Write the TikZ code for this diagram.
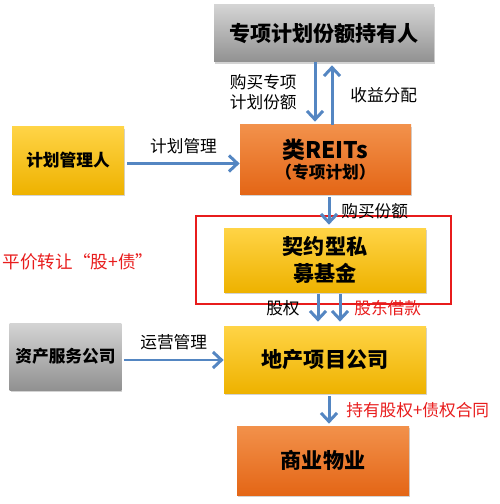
\documentclass[tikz,border=0pt]{standalone}
\usepackage{fontspec}
\setmainfont{Noto Sans CJK SC}
\usetikzlibrary{arrows.meta, positioning, shadows}

\begin{document}
\begin{tikzpicture}[
    box/.style={rectangle, align=center, font=\bfseries,
      drop shadow={shadow xshift=0.6pt, shadow yshift=-1.2pt, opacity=0.35}},
    graybox/.style={box, top color=boxgrayA, bottom color=boxgrayB},
    yellowbox/.style={box, top color=boxyellowA, bottom color=boxyellowB},
    orangebox/.style={box, top color=boxorangeA, bottom color=boxorangeB},
    flow/.style={draw=flowblue, line width=1.7pt, -{Straight Barb[length=1.7mm, width=3.2mm]}},
    lbl/.style={font=\fontsize{9.5}{11.5}\selectfont, text=black},
    redlbl/.style={font=\fontsize{9.5}{11.5}\selectfont, text=alertred},
    big/.style={font=\bfseries\fontsize{12}{15}\selectfont},
    small/.style={font=\bfseries\fontsize{9.5}{11.5}\selectfont}
  ]
  % Colors
  \definecolor{boxgrayA}{RGB}{212,212,212}
  \definecolor{boxgrayB}{RGB}{145,145,145}
  \definecolor{boxyellowA}{RGB}{255,212,70}
  \definecolor{boxyellowB}{RGB}{238,178,0}
  \definecolor{boxorangeA}{RGB}{242,145,75}
  \definecolor{boxorangeB}{RGB}{228,102,22}
  \definecolor{flowblue}{RGB}{84,134,194}
  \definecolor{alertred}{RGB}{232,28,28}

  \useasboundingbox (0,0) rectangle (10,-10.08);

  % Boxes
  \node[graybox, big, minimum width=4.4cm, minimum height=1.14cm] (holder) at (6.48,-0.67) {专项计划份额持有人};
  \node[yellowbox, small, minimum width=2.24cm, minimum height=1.34cm] (manager) at (1.36,-3.21) {计划管理人};
  \node[orangebox, minimum width=3.42cm, minimum height=1.38cm] (reits) at (6.51,-3.19)
    {{\fontsize{13}{16}\selectfont 类REITs}\\[-1pt]{\fontsize{9.5}{11.5}\selectfont （专项计划）}};
  \node[yellowbox, big, minimum width=4.04cm, minimum height=1.28cm] (fund) at (6.50,-5.20) {契约型私\\募基金};
  \node[graybox, small, minimum width=2.22cm, minimum height=1.34cm] (service) at (1.31,-7.13) {资产服务公司};
  \node[yellowbox, big, minimum width=4.04cm, minimum height=1.34cm] (project) at (6.50,-7.19) {地产项目公司};
  \node[orangebox, big, minimum width=3.44cm, minimum height=1.38cm] (property) at (6.46,-9.21) {商业物业};

  % Red frame and note
  \node[draw=alertred, line width=1.2pt, minimum width=5.1cm, minimum height=1.76cm] (frame) at (6.47,-5.20) {};
  \node[redlbl, font=\fontsize{10}{12}\selectfont] (transfer) at (1.56,-5.24) {平价转让“股+债”};

  % Arrows
  \draw[flow] ([xshift=-0.18cm]holder.south) -- ([xshift=-0.18cm, yshift=0.06cm]holder.south |- reits.north)
    node[lbl, midway, left=0.22cm, align=center] {购买专项\\计划份额};
  \draw[flow] ([xshift=0.13cm]reits.north) -- ([xshift=0.13cm, yshift=-0.06cm]reits.north |- holder.south)
    node[lbl, midway, right=0.22cm] {收益分配};
  \draw[flow] ([xshift=0.06cm, yshift=-0.06cm]manager.east) -- ([yshift=-0.06cm]manager.east -| reits.west)
    node[lbl, midway, above=0.05cm] {计划管理};
  \draw[flow] ([xshift=0.07cm, yshift=-0.06cm]reits.south) -- ([xshift=0.07cm, yshift=0.06cm]reits.south |- fund.north)
    node[lbl, midway, right=0.1cm] {购买份额};
  \draw[flow] ([xshift=-0.14cm, yshift=-0.04cm]fund.south) -- ([xshift=-0.14cm, yshift=0.08cm]fund.south |- project.north)
    node[lbl, midway, left=0.22cm] {股权};
  \draw[flow] ([xshift=0.30cm, yshift=-0.04cm]fund.south) -- ([xshift=0.30cm, yshift=0.08cm]fund.south |- project.north)
    node[redlbl, midway, right=0.14cm] {股东借款};
  \draw[flow] ([xshift=0.04cm, yshift=-0.07cm]service.east) -- ([yshift=-0.07cm]service.east -| project.west)
    node[lbl, midway, above=0.05cm] {运营管理};
  \draw[flow] ([xshift=0.08cm, yshift=-0.06cm]project.south) -- ([xshift=0.08cm, yshift=0.04cm]project.south |- property.north)
    node[redlbl, midway, right=0.2cm] {持有股权+债权合同};
\end{tikzpicture}
\end{document}
